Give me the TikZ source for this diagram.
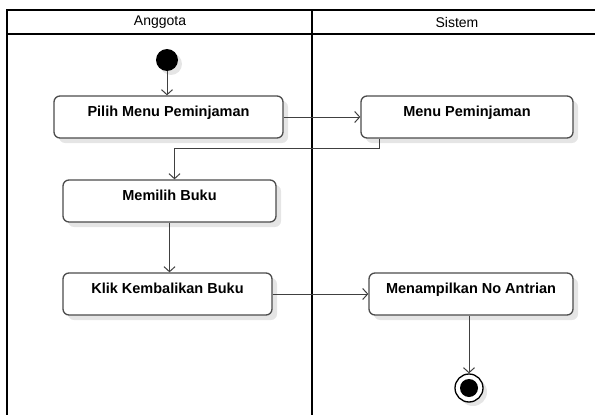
\documentclass[tikz,border=0pt]{standalone}
\usepackage{fontspec}
\setmainfont{Liberation Sans}
\usetikzlibrary{arrows.meta,shadows}
\tikzstyle{lane}=[line width=2.2pt,draw=black]
\tikzstyle{act}=[rectangle,rounded corners=6pt,draw=black!70,line width=1.3pt,fill=white,drop shadow={fill=black!10,opacity=1,shadow xshift=5pt,shadow yshift=-5pt},font=\fontsize{14.5}{16}\selectfont\bfseries,inner xsep=2pt,inner ysep=4pt,text height=16pt,text depth=18pt]
\tikzstyle{init}=[circle,fill=black,minimum size=22pt,inner sep=0pt,drop shadow={fill=black!10,opacity=1,shadow xshift=4pt,shadow yshift=-4pt}]
\tikzstyle{final}=[circle,draw=black,line width=1.3pt,fill=white,minimum size=28pt,inner sep=0pt,drop shadow={fill=black!10,opacity=1,shadow xshift=4pt,shadow yshift=-4pt}]
\tikzstyle{flow}=[->,draw=black!75,line width=1pt]

\begin{document}
\begin{tikzpicture}[x=1pt,y=-1pt,>={Straight Barb[length=5pt,width=11pt]}]
\clip (0, 0) rectangle (595, 415);
\useasboundingbox (0, 0) rectangle (595, 415);
% swimlanes
\draw[lane] (7, 10) rectangle (602, 425);
\draw[lane] (7, 34) -- (602, 34);
\draw[lane] (312, 10) -- (312, 425);
\node[font=\fontsize{14}{16}\selectfont] at (160, 22) (hAnggota) {Anggota};
\node[font=\fontsize{14}{16}\selectfont] at (457, 22) (hSistem) {Sistem};
% activities
\node[init] at (167, 60) (start) {};
\node[act, minimum width=229pt] at (168.5, 117) (pilih) {Pilih Menu Peminjaman};
\node[act, minimum width=212pt] at (467, 117) (menu) {Menu Peminjaman};
\node[act, minimum width=213pt] at (169.5, 201) (buku) {Memilih Buku};
\node[act, minimum width=209pt] at (167.5, 294) (klik) {Klik Kembalikan Buku};
\node[act, minimum width=204pt] at (471, 294) (antri) {Menampilkan No Antrian};
\node[final] at (469, 388) (stop) {};
\fill (stop) circle (9pt);
% transitions
\draw[flow] (start) -- (start |- pilih.north);
\draw[flow] (pilih) -- (menu);
\draw[flow] ([xshift=-88pt]menu.south) -- ++(0, 10) -| ([xshift=5pt]buku.north);
\draw[flow] (buku.south) -- (buku.south |- klik.north);
\draw[flow] (klik) -- (antri);
\draw[flow] (stop |- antri.south) -- (stop);
\end{tikzpicture}
\end{document}
